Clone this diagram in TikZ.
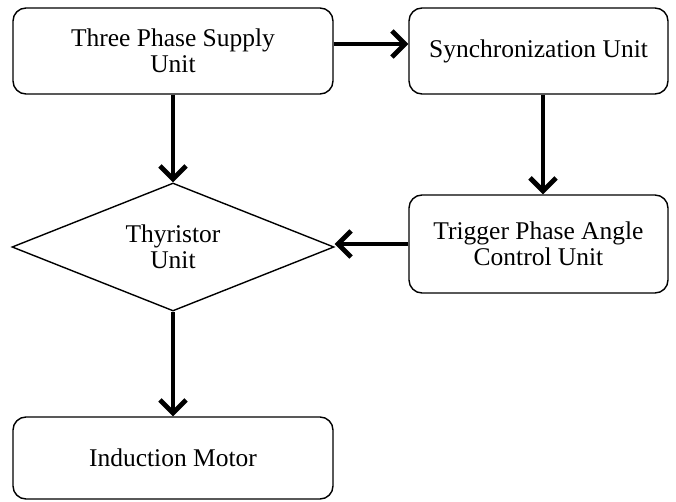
\documentclass[tikz,border=0pt]{standalone}
\usepackage{fontspec}
\setmainfont{Liberation Serif}
\usetikzlibrary{shapes.geometric,arrows.meta}
\begin{document}
\begin{tikzpicture}[x=1pt,y=-1pt,
  box/.style={draw=black,line width=1.4pt,rounded corners=13pt,fill=white,
    minimum width=#1,inner sep=0pt,align=center,
    font=\fontsize{25.5}{26}\selectfont},
  dia/.style={draw=black,line width=1.4pt,diamond,shape aspect=2.5,inner sep=0pt,align=center,
    minimum width=322pt,minimum height=128pt,
    font=\fontsize{25.5}{26}\selectfont},
  conn/.style={line width=4.8pt,-{Straight Barb[length=13pt,width=26pt,line width=4.8pt]}}]
\useasboundingbox (0,0) rectangle (676,502);
\node[box=320pt,minimum height=86pt] (tps) at (173,51) {Three Phase Supply\\Unit};
\node[box=259pt,minimum height=86pt] (syn) at (538.5,51) {Synchronization Unit};
\node[dia] (thy) at (173,247) {Thyristor\\Unit};
\node[box=259pt,minimum height=98pt] (tpa) at (538.5,244) {Trigger Phase Angle\\Control Unit};
\node[box=320pt,minimum height=82pt] (ind) at (173,458) {Induction Motor};
\draw[conn] ([yshift=7pt]tps.east) -- ([yshift=7pt]syn.west);
\draw[conn] (tps.south) -- (thy.north);
\draw[conn] ([xshift=4.5pt]syn.south) -- ([xshift=4.5pt]syn.south |- tpa.north);
\draw[conn] (tpa.west) -- (tpa.west -| thy.east);
\draw[conn] (thy.south) -- (ind.north);
\end{tikzpicture}
\end{document}
